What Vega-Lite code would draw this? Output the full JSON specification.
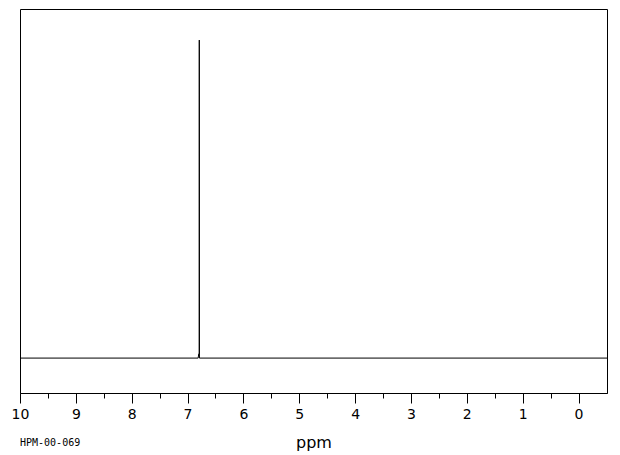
{
  "$schema": "https://vega.github.io/schema/vega-lite/v6.json",
  "width": 587,
  "height": 384,
  "autosize": {"type": "none"},
  "padding": {"left": 20, "top": 9, "right": 13, "bottom": 62},
  "background": "white",
  "config": {
    "view": {"stroke": "black", "strokeWidth": 1},
    "font": "DejaVu Sans"
  },
  "title": {
    "text": "HPM-00-069",
    "orient": "bottom",
    "anchor": "start",
    "frame": "group",
    "fontSize": 10,
    "fontWeight": "normal",
    "font": "DejaVu Sans Mono",
    "color": "black",
    "baseline": "alphabetic",
    "offset": -4
  },
  "data": {
    "values": [
      {"ppm": 10.0, "intensity": 0},
      {"ppm": 6.81, "intensity": 0},
      {"ppm": 6.80, "intensity": 1.2},
      {"ppm": 6.792, "intensity": 1.2},
      {"ppm": 6.79, "intensity": 91.1},
      {"ppm": 6.787, "intensity": 0},
      {"ppm": -0.51, "intensity": 0}
    ]
  },
  "layer": [
    {
      "mark": {"type": "line", "color": "black", "strokeWidth": 1, "clip": true},
      "encoding": {
        "x": {
          "field": "ppm",
          "type": "quantitative",
          "sort": null,
          "scale": {"domain": [10, -0.51], "nice": false, "zero": false},
          "axis": {
            "values": [10, 9, 8, 7, 6, 5, 4, 3, 2, 1, 0],
            "tickSize": 10,
            "tickColor": "black",
            "domainColor": "black",
            "labelColor": "black",
            "labelFontSize": 14,
            "labelPadding": 4,
            "labelFlush": false,
            "grid": false,
            "title": "ppm",
            "titleFontSize": 16,
            "titleFontWeight": "normal",
            "titleColor": "black",
            "titlePadding": 13
          }
        },
        "y": {
          "field": "intensity",
          "type": "quantitative",
          "scale": {"domain": [-10, 100], "nice": false, "zero": false},
          "axis": null
        }
      }
    },
    {
      "mark": {"type": "point", "opacity": 0},
      "data": {"values": [{"ppm": 9.5}, {"ppm": 0.5}]},
      "encoding": {
        "x": {
          "field": "ppm",
          "type": "quantitative",
          "axis": {
            "orient": "bottom",
            "values": [9.5, 8.5, 7.5, 6.5, 5.5, 4.5, 3.5, 2.5, 1.5, 0.5],
            "tickSize": 5,
            "tickColor": "black",
            "labels": false,
            "domain": false,
            "grid": false,
            "title": null
          }
        }
      }
    }
  ],
  "resolve": {"axis": {"x": "independent"}}
}
